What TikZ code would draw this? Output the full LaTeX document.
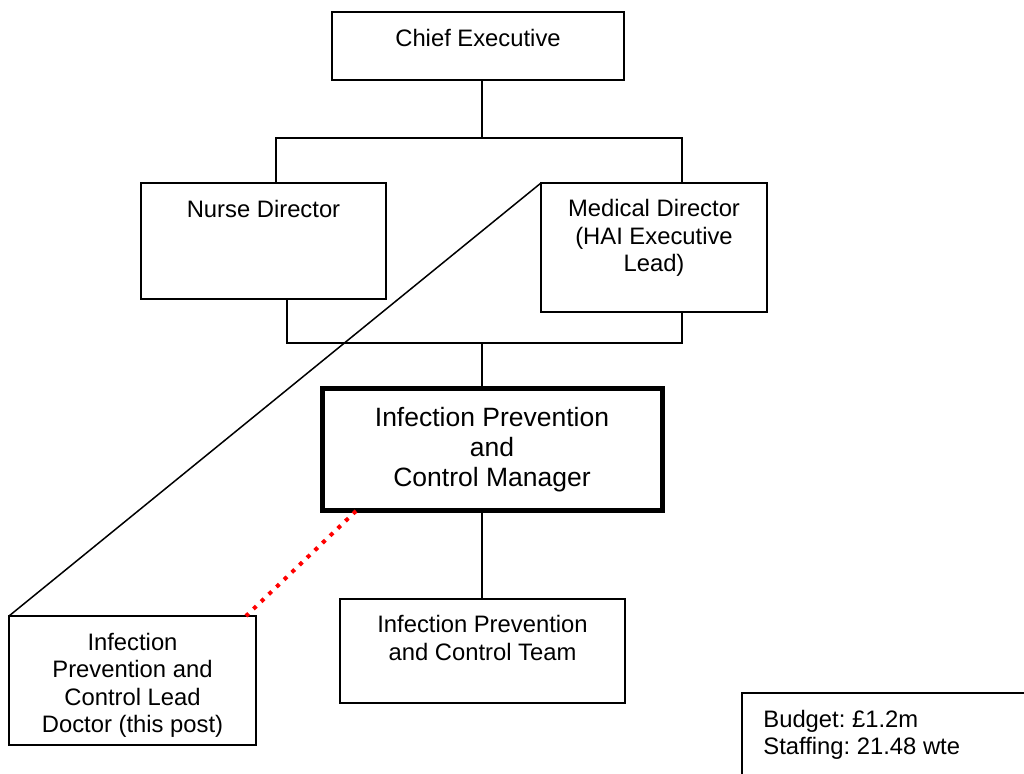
\documentclass[tikz,border=0pt]{standalone}
\usepackage{fontspec}
\setmainfont{Liberation Sans}
\usetikzlibrary{positioning}
\frenchspacing

\tikzset{
orgbox/.style={draw, rectangle, line width=0.75pt, inner sep=0pt, outer sep=0pt},
mgrbox/.style={draw, rectangle, line width=2.5pt, inner sep=0pt, outer sep=0pt},
orgtext/.style={anchor=north, inner sep=0pt, align=center, font=\fontsize{11.9}{13.75}\selectfont},
mgrtext/.style={anchor=north, inner sep=0pt, align=center, font=\fontsize{13.25}{15}\selectfont},
budgettext/.style={anchor=north west, inner sep=0pt, align=left, font=\fontsize{11.9}{12.3}\selectfont},
link/.style={line width=0.75pt},
dotlink/.style={red, line width=2pt, dash pattern=on 2pt off 3.3pt}
}

\begin{document}
\begin{tikzpicture}[x=0.5pt, y=-0.5pt]
\useasboundingbox (0,0) rectangle (1024,774);
% boxes
\node[orgbox, minimum width=146pt, minimum height=34pt] (ce) at (478,46){};
\node[orgbox, minimum width=122.5pt, minimum height=58pt] (nurse) at (263.5,241){};
\node[orgbox, minimum width=113pt, minimum height=64.5pt] (med) at (654,247.5){};
\node[mgrbox, minimum width=170pt, minimum height=61pt] (mgr) at (492,450){};
\node[orgbox, minimum width=142.5pt, minimum height=52pt] (team) at (482.5,651){};
\node[orgbox, minimum width=123.5pt, minimum height=64.5pt] (lead) at (132.5,680.5){};
\node[orgbox, minimum width=149pt, minimum height=48.5pt] (budget) at (891,741.5){};
% texts
\node[orgtext, below=7.4pt of ce.north] (cetxt){\strut Chief Executive};
\node[orgtext, below=7.4pt of nurse.north] (nursetxt){\strut Nurse Director};
\node[orgtext, below=7pt of med.north] (medtxt){\strut Medical Director\\(HAI Executive\\Lead)};
\node[mgrtext, below=8pt of mgr.north] (mgrtxt){\strut Infection Prevention\\and\\Control Manager};
\node[orgtext, below=7pt of team.north] (teamtxt){\strut Infection Prevention\\and Control Team};
\node[orgtext, below=7.4pt of lead.north] (leadtxt){\strut Infection\\Prevention and\\Control Lead\\Doctor (this post)};
\node[budgettext] (budgettxt) at (763,709.8){\strut Budget: £1.2m\\Staffing: 21.48 wte};
% connectors
\coordinate (tl) at (276,138);
\coordinate (tm) at (482,138);
\coordinate (tr) at (682,138);
\coordinate (bl) at (287,343);
\coordinate (bm) at (482,343);
\coordinate (br) at (682,343);
\draw[link] (tm |- ce.south) -- (tm);
\draw[link] (tl |- nurse.north) -- (tl) -- (tr) -- (tr |- med.north);
\draw[link] (bl |- nurse.south) -- (bl) -- (br) -- (br |- med.south);
\draw[link] (bm) -- (bm |- mgr.north);
\draw[link] (bm |- team.north) -- (bm |- mgr.south);
\draw[link] (med.north west) -- (lead.north west);
\draw[dotlink] ([xshift=17pt]mgr.south west) -- ([xshift=-5pt]lead.north east);
\end{tikzpicture}
\end{document}
